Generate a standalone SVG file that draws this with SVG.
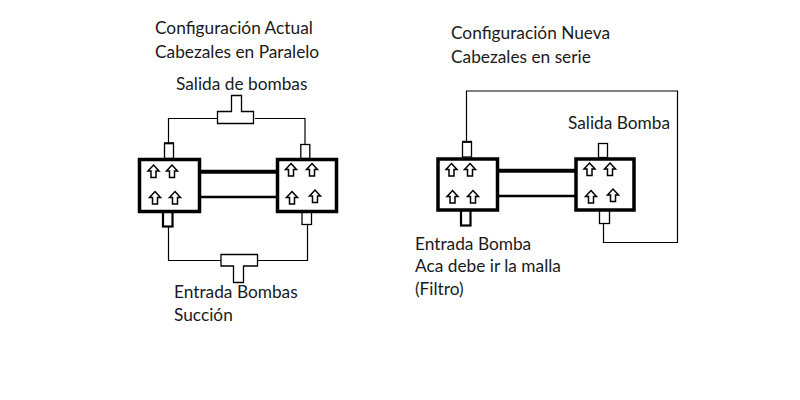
<svg xmlns="http://www.w3.org/2000/svg" width="800" height="400" viewBox="0 0 800 400">
<style>
text{font-family:"Lato","Open Sans",sans-serif;font-size:17.3px;fill:#1a1a1a}
.box{fill:#fff;stroke:#000;stroke-width:3.5}
.stub{fill:#fff;stroke:#000;stroke-width:1.3}
.stubb{fill:#fff;stroke:#000;stroke-width:2.2}
.wire{fill:none;stroke:#000;stroke-width:1.2}
.tee{fill:#fff;stroke:#000;stroke-width:1.3}
.thick{stroke:#000;stroke-width:4}
.thin{stroke:#000;stroke-width:2.4}
.arr{fill:#fff;stroke:#000;stroke-width:1.5}
</style>
<defs>
<path id="a" class="arr" d="M0-6.5L5.5-.5H2.5V6H-2.5V-.5H-5.5Z"/>
</defs>
<rect width="800" height="400" fill="#fff"/>
<g id="connectors">
<path class="wire" d="M168.5 143V118.5H217.5M255 118.5H305V144"/>
<path class="wire" d="M168.5 227V260.5H221M257.5 260.5H307.5V224"/>
<path class="thick" d="M200 171.7H276"/>
<path class="thin" d="M200 197H276"/>
<path class="wire" d="M466.5 142V91H677.5V242.5H603.5V223"/>
<path class="thick" d="M498 170.7H575"/>
<path class="thin" d="M498 196H575"/>
</g>
<g id="tee-salida">
<path class="tee" d="M231.5 111.5V95.5H241.5V111.5H253.5V123.5H217.5V111.5Z"/>
</g>
<g id="tee-entrada">
<path class="tee" d="M221 254.5H257.5V266H243.5V282.5H233.5V266H221Z"/>
</g>
<g id="cabezal-1">
<rect class="stub" x="164.5" y="143.5" width="9" height="15"/>
<path d="M164 143.2H174" stroke="#000" stroke-width="2"/>
<rect class="stubb" x="163" y="210" width="9.5" height="16.5"/>
<rect class="box" x="139.5" y="159.5" width="60" height="52"/>
<use href="#a" x="153.5" y="171.5"/><use href="#a" x="172" y="171.5"/>
<use href="#a" x="155" y="198"/><use href="#a" x="175" y="198"/>
</g>
<g id="cabezal-2">
<rect class="stub" x="300.8" y="144.5" width="9" height="14"/>
<rect class="stub" x="302" y="210" width="9.5" height="14.5"/>
<rect class="box" x="277.5" y="159.5" width="59" height="52"/>
<use href="#a" x="291" y="170"/><use href="#a" x="312" y="170"/>
<use href="#a" x="292" y="198"/><use href="#a" x="315" y="196.5"/>
</g>
<g id="cabezal-3">
<rect class="stub" x="462.5" y="142" width="9" height="15"/>
<path d="M462 141.8H472" stroke="#000" stroke-width="2"/>
<rect class="stubb" x="461" y="209" width="9.5" height="16.5"/>
<rect class="box" x="438" y="159" width="59.5" height="51"/>
<use href="#a" x="451.5" y="170"/><use href="#a" x="470" y="170"/>
<use href="#a" x="452.5" y="197"/><use href="#a" x="473" y="197"/>
</g>
<g id="cabezal-4">
<rect class="stub" x="598.5" y="143.5" width="9" height="14"/>
<rect class="stub" x="599.5" y="209" width="10" height="14.5"/>
<rect class="box" x="576" y="159" width="58" height="51"/>
<use href="#a" x="589.5" y="169.5"/><use href="#a" x="610" y="169.5"/>
<use href="#a" x="591" y="197"/><use href="#a" x="613" y="195.5"/>
</g>
<g id="labels">
<text x="155" y="34">Configuración Actual</text>
<text x="155" y="58">Cabezales en Paralelo</text>
<text x="176" y="90">Salida de bombas</text>
<text x="174" y="298">Entrada Bombas</text>
<text x="174" y="321">Succión</text>
<text x="451" y="39">Configuración Nueva</text>
<text x="451" y="63">Cabezales en serie</text>
<text x="568" y="129">Salida Bomba</text>
<text x="415" y="250">Entrada Bomba</text>
<text x="415" y="272">Aca debe ir la malla</text>
<text x="415" y="295">(Filtro)</text>
</g>
</svg>
